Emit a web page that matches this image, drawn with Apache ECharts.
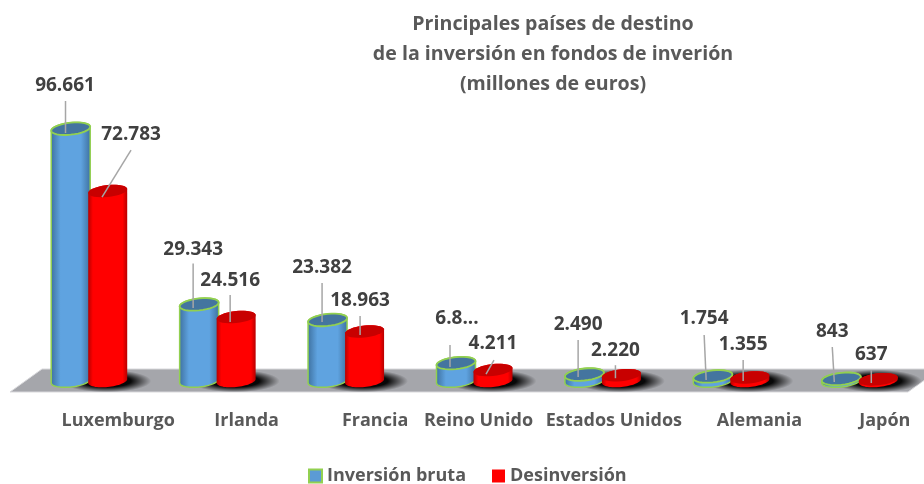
<!DOCTYPE html>
<html>
<head>
<meta charset="utf-8">
<style>
  html, body { margin: 0; padding: 0; background: #fff; }
  #chart { width: 924px; height: 484px; }
</style>
<script src="https://cdn.jsdelivr.net/npm/echarts@6/dist/echarts.min.js"></script>
</head>
<body>
<div id="chart"></div>
<script>
const categories = ['Luxemburgo', 'Irlanda', 'Francia', 'Reino Unido', 'Estados Unidos', 'Alemania', 'Japón'];
const inversionBruta = [96661, 29343, 23382, 6850, 2490, 1754, 843];
const desinversion = [72783, 24516, 18963, 4211, 2220, 1355, 637];
const brutaLabels = ['96.661', '29.343', '23.382', '6.8...', '2.490', '1.754', '843'];
const desinvLabels = ['72.783', '24.516', '18.963', '4.211', '2.220', '1.355', '637'];

// manual label placement, relative to the top of each cylinder: [textDx, textDy, lineTopDx, lineTopDy, lineEndDx, lineEndDy]
const brutaLeaders = [
  [-5.7, -43.7, -5.2, -27.7, -5.2, 4.3],
  [-6, -56, -6, -41, -6, 3.6],
  [-5.5, -53, -5.5, -37, -5.5, 2],
  [1, -46, -6, -18, -6, 4],
  [-6.3, -50.5, -6.3, -34.5, -6.3, 2.5],
  [-8.7, -58.4, -8.7, -41.4, -6.7, 3.6],
  [-9, -47.8, -9, -31.8, -7, 3.2]
];
const desinvLeaders = [
  [23.3, -57, 23.3, -41, -5.7, 6],
  [-6, -37, -6, -22, -6, 5],
  [-4.5, -31.5, -4.5, -15.5, -4.5, 3.5],
  [0, -27, 1, -10, -7, 4],
  [-6, -26, -6, -10, -6, 3],
  [-6.7, -33.5, -6.7, -17.5, -6.7, 3.5],
  [-7, -26, -7, -9, -7, 3.7]
];
// the category labels sit to the right of their bars in the original
const labelShift = [30, 30, 30, 5, 12, 29, 26];

const FONT = 'Open Sans';
const GREY = '#595959';
const GRID = { left: 24, top: 120, width: 899, height: 261 };
const RX = 19.5, RY = 6, TILT = 0.1;

function hGradient(edge, mid, stop) {
  return {
    type: 'linear', x: 0, y: 0, x2: 1, y2: 0,
    colorStops: [
      { offset: 0, color: edge },
      { offset: stop, color: mid },
      { offset: 1 - stop, color: mid },
      { offset: 1, color: edge }
    ]
  };
}

// sheared ellipse, the cylinders lean a little to the right
function ellipseArc(cx, cy, from, to) {
  const pts = [];
  for (let k = 0; k <= 32; k++) {
    const t = from + (to - from) * k / 32;
    pts.push([cx + RX * Math.cos(t), cy + RY * Math.sin(t) - TILT * RX * Math.cos(t)]);
  }
  return pts;
}

function cylinderItem(opts) {
  return function (params, api) {
    const i = api.value(0);
    const band = api.size([1, 0])[0];
    const base = api.coord([i, 0]);
    const top = api.coord([i, api.value(1)]);
    const cx = base[0] + band * opts.offset;
    const leader = opts.leaders[i];
    const children = [];

    if (opts.shadow) {
      // circle squashed flat, a radial gradient on an ellipse stays round
      children.push({
        type: 'circle',
        x: base[0] + 18, y: base[1],
        scaleY: 0.25,
        shape: { cx: 0, cy: 0, r: 45 },
        style: {
          fill: {
            type: 'radial', x: 0.5, y: 0.5, r: 0.5,
            colorStops: [
              { offset: 0, color: 'rgba(0,0,0,1)' },
              { offset: 0.55, color: 'rgba(0,0,0,0.95)' },
              { offset: 1, color: 'rgba(0,0,0,0)' }
            ]
          }
        }
      });
    }

    // wall: front half of the base ellipse plus the back half of the top one
    const wall = ellipseArc(cx, base[1], Math.PI, 0)
      .concat(ellipseArc(cx, top[1], 0, -Math.PI));
    children.push({
      type: 'polygon',
      shape: { points: wall },
      style: { fill: hGradient(opts.edge, opts.mid, opts.stop), stroke: opts.stroke, lineWidth: opts.stroke ? 1.5 : 0 }
    });
    children.push({
      type: 'polygon',
      shape: { points: ellipseArc(cx, top[1], 0, Math.PI * 2) },
      style: { fill: opts.cap, stroke: opts.stroke, lineWidth: opts.stroke ? 1.8 : 0 }
    });

    children.push({
      type: 'line',
      shape: { x1: cx + leader[2], y1: top[1] + leader[3], x2: cx + leader[4], y2: top[1] + leader[5] },
      style: { stroke: '#a6a6a6', lineWidth: 1.5 }
    });
    children.push({
      type: 'text',
      style: {
        x: cx + leader[0], y: top[1] + leader[1] + 1,
        text: opts.labels[i],
        fill: '#404040',
        font: 'bold 19px ' + FONT,
        align: 'center', verticalAlign: 'middle'
      }
    });
    return { type: 'group', children };
  };
}

const chart = echarts.init(document.getElementById('chart'));
chart.setOption({
  animation: false,
  backgroundColor: '#fff',
  title: {
    text: 'Principales países de destino\nde la inversión en fondos de inverión\n(millones de euros)',
    left: 548, top: 4, textAlign: 'center',
    textStyle: { fontFamily: FONT, fontWeight: 'bold', fontSize: 19.6, lineHeight: 30, color: GREY }
  },
  legend: {
    left: 303, top: 462,
    itemWidth: 13, itemHeight: 13, itemGap: 26,
    icon: 'rect',
    textStyle: { fontFamily: FONT, fontWeight: 'bold', fontSize: 18, color: GREY },
    data: ['Inversión bruta', 'Desinversión']
  },
  grid: GRID,
  xAxis: {
    type: 'category',
    data: categories.map((name, i) => ({
      value: name,
      textStyle: { padding: [0, 0, 0, labelShift[i] * 2] }
    })),
    axisLine: { show: false },
    axisTick: { show: false },
    axisLabel: { interval: 0, margin: 31, fontFamily: FONT, fontWeight: 'bold', fontSize: 18, color: GREY }
  },
  yAxis: { type: 'value', min: 0, max: 100000, show: false },
  graphic: [{
    // floor of the 3D chart
    type: 'polygon', z: 0,
    shape: { points: [[10, 392], [42, 369], [940, 369], [908, 392]] },
    style: { fill: '#a5a6ab', stroke: '#d9d9dc', lineWidth: 1 }
  }],
  series: [
    {
      name: 'Inversión bruta',
      type: 'custom',
      z: 3,
      clip: false,
      itemStyle: { color: '#5b9bd5', borderColor: '#92d050', borderWidth: 2 },
      encode: { x: 0, y: 1 },
      data: inversionBruta.map((v, i) => [i, v]),
      renderItem: cylinderItem({
        offset: -17.5 / 128.4, edge: '#3d6f9d', mid: '#5fa3e0', cap: '#44759f', stroke: '#92d050', stop: 0.25,
        leaders: brutaLeaders, labels: brutaLabels, shadow: true
      })
    },
    {
      name: 'Desinversión',
      type: 'custom',
      z: 4,
      clip: false,
      itemStyle: { color: '#ff0000' },
      encode: { x: 0, y: 1 },
      data: desinversion.map((v, i) => [i, v]),
      renderItem: cylinderItem({
        offset: 19.5 / 128.4, edge: '#b80000', mid: '#ff0000', cap: '#c80000', stroke: null, stop: 0.12,
        leaders: desinvLeaders, labels: desinvLabels, shadow: false
      })
    }
  ]
});
</script>
</body>
</html>
